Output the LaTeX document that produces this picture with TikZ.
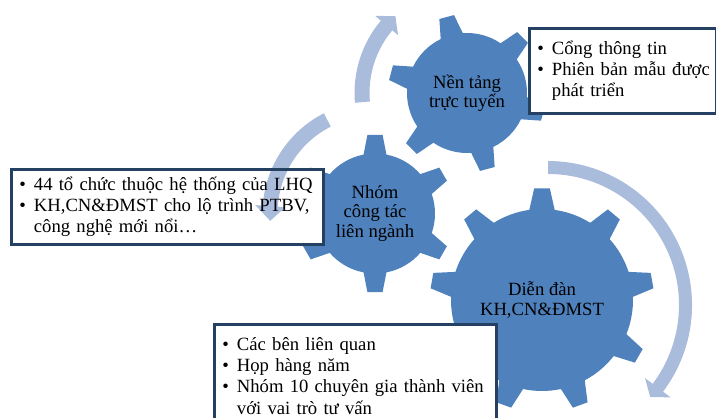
\documentclass[tikz,border=0pt]{standalone}
\usepackage{fontspec}
\setmainfont{Liberation Serif}
\usetikzlibrary{positioning, calc}
\definecolor{gearblue}{RGB}{79,129,189}
\definecolor{arcblue}{RGB}{170,188,220}
\definecolor{boxline}{RGB}{36,64,98}
\pgfdeclarelayer{back}
\pgfdeclarelayer{arcs}
\pgfsetlayers{back,arcs,main}

%% gear: centre, teeth, first tooth, root radius, outer radius, tip half angle, base half angle
\newcommand{\gear}[7]{
	\fill[gearblue] ($(#1)+({#3-#7}:#4)$)
	\foreach \k [evaluate=\k as \a using #3+(\k-1)*360/#2] in {1,...,#2}{
		-- ($(#1)+({\a-#7}:#4)$) -- ($(#1)+({\a-#6}:#5)$) -- ($(#1)+({\a+#6}:#5)$) -- ($(#1)+({\a+#7}:#4)$)
		arc[start angle={\a+#7}, end angle={\a+360/#2-#7}, radius=#4]
	} -- cycle;
}
%% circular arrow: centre, radius, half width, start, head base, tip, head half width
\newcommand{\circarrow}[7]{
	\pgfmathsetmacro\rin{#2-#3}\pgfmathsetmacro\rout{#2+#3}
	\pgfmathsetmacro\hin{#2-#7}\pgfmathsetmacro\hout{#2+#7}
	\fill[arcblue] ($(#1)+(#4:\rin)$) arc[start angle=#4, end angle=#5, radius=\rin]
	-- ($(#1)+(#5:\hin)$) -- ($(#1)+(#6:#2)$) -- ($(#1)+(#5:\hout)$) -- ($(#1)+(#5:\rout)$)
	arc[start angle=#5, end angle=#4, radius=\rout] -- cycle;
}
\newcommand{\itm}[1]{\mbox{\makebox[11pt][l]{\textbullet}#1}}
\newcommand{\itmc}[1]{\mbox{\hspace*{11pt}#1}}

\begin{document}
\begin{tikzpicture}[x=0.75pt, y=0.75pt,
	gtxt/.style={align=center, font=\fontsize{14}{14.5}\selectfont},
	infobox/.style={draw=boxline, line width=1.9pt, anchor=north west, align=left, inner xsep=6pt, inner ysep=0pt, font=\fontsize{14}{16}\selectfont}]
	\useasboundingbox (0,0) rectangle (716,417);
	
	\node[gtxt] (nen) at (467,324) {Nền tảng\\trực tuyến};
	\node[gtxt] (nhom) at (375,203.5) {Nhóm\\công tác\\liên ngành};
	\node[gtxt] (forum) at (542,117) {Diễn đàn\\KH,CN\&ĐMST};
	\coordinate (fc) at (548,112);
	
	\node[infobox, minimum height=63.75pt, text width=128.25pt] (b1) at (528,390) {\itm{Cổng thông tin}\\\itm{Phiên bản mẫu được}\\\itmc{phát triển}};
	\node[infobox, minimum height=56.25pt, text width=222pt] (b2) at (10,249) {\itm{44 tổ chức thuộc hệ thống của LHQ}\\\itm{KH,CN\&ĐMST cho lộ trình PTBV,}\\\itmc{công nghệ mới nổi…}};
	\node[infobox, minimum height=77.25pt, text width=199.5pt] (b3) at (213,94) {\itm{Các bên liên quan}\\\itm{Họp hàng năm}\\\itm{Nhóm 10 chuyên gia thành viên}\\\itmc{với vai trò tư vấn}};
	
	%% gears, then white box fills over them
	\begin{pgfonlayer}{back}
		\gear{forum.center}{9}{90}{91}{112}{4}{8}
		\gear{nhom.center}{6}{90}{60}{79}{5.5}{11}
		\gear{nen.center}{6}{45}{60}{79}{5.5}{11}
		\foreach \b in {b1,b2,b3} \fill[white] (\b.north west) rectangle (\b.south east);
	\end{pgfonlayer}
	
	%% arrows round the gears
	\begin{pgfonlayer}{arcs}
		\circarrow{nen.center}{105}{7.5}{185}{140}{133}{15}
		\circarrow{nhom.center}{105}{7.5}{117}{176}{184}{15}
		\circarrow{fc}{137.5}{6.5}{90}{-37}{-42}{16}
	\end{pgfonlayer}
\end{tikzpicture}
\end{document}
